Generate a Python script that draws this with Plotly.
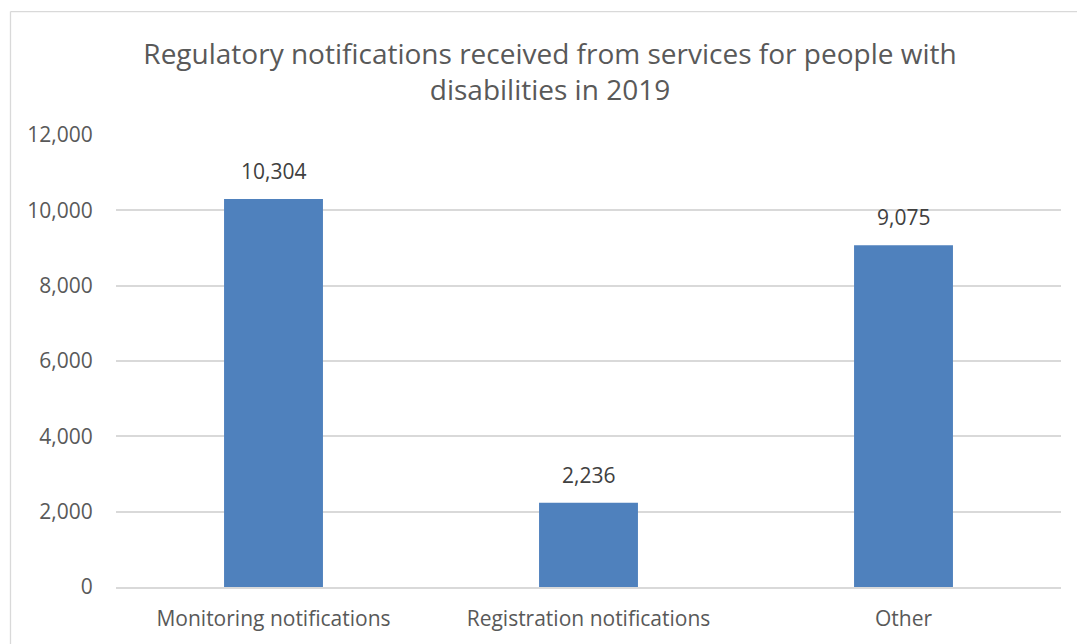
import plotly.graph_objects as go

categories = ["Monitoring notifications", "Registration notifications", "Other"]
values = [10304, 2236, 9075]
y_ticks = [0, 2000, 4000, 6000, 8000, 10000, 12000]
y_tick_labels = [f"{v:,}" for v in y_ticks]
title_text = "Regulatory notifications received from services for people with<br>disabilities in 2019"

W, H = 1077, 644
L, R, T, B = 116, 1061, 135, 591

fig = go.Figure()
fig.add_trace(go.Bar(
    x=categories, y=values,
    marker=dict(color="#4F81BD", line=dict(width=0)),
    width=0.314,
    hoverinfo="x+y",
))

for c, v in zip(categories, values):
    fig.add_annotation(
        x=c, y=v, text=f"{v:,}", showarrow=False,
        yanchor="bottom", yshift=12,
        font=dict(family="Open Sans", size=21, color="#404040"),
    )

def px_x(p):
    return (p - L) / (R - L)

def px_y(p):
    return (B - p) / (B - T)

# chart border (extends past the window on right and bottom)
fig.add_shape(type="line", xref="paper", yref="paper",
              x0=px_x(10.5), x1=px_x(1090), y0=px_y(10.5), y1=px_y(10.5),
              line=dict(color="#D9D9D9", width=1.3), layer="below")
fig.add_shape(type="line", xref="paper", yref="paper",
              x0=px_x(10.5), x1=px_x(10.5), y0=px_y(10.5), y1=px_y(660),
              line=dict(color="#D9D9D9", width=1.3), layer="below")

fig.update_layout(
    width=W, height=H,
    margin=dict(l=L, r=W - R, t=T, b=H - B, pad=0),
    paper_bgcolor="white", plot_bgcolor="white",
    showlegend=False,
    font=dict(family="Open Sans", color="#595959", size=21),
    title=dict(
        text=title_text,
        x=550 / W, xanchor="center", xref="container",
        y=1 - 64 / H, yanchor="middle", yref="container",
        font=dict(family="Open Sans", size=28, color="#595959"),
    ),
    bargap=0.686,
)
fig.update_xaxes(
    showgrid=False, showline=True, linecolor="#D9D9D9", linewidth=1.5,
    ticks="outside", ticklen=12, tickcolor="rgba(0,0,0,0)",
    tickfont=dict(family="Open Sans", size=21, color="#595959"),
)
fig.update_yaxes(
    range=[0, 12000], tickvals=y_ticks, ticktext=y_tick_labels,
    showgrid=True, gridcolor="#D9D9D9", gridwidth=1.5,
    zeroline=False, showline=False,
    ticks="outside", ticklen=18, tickcolor="rgba(0,0,0,0)",
    tickfont=dict(family="Open Sans", size=21, color="#595959"),
)

fig.write_html("out.html", config={"displayModeBar": False},
               post_script="document.body.style.margin='0';")
